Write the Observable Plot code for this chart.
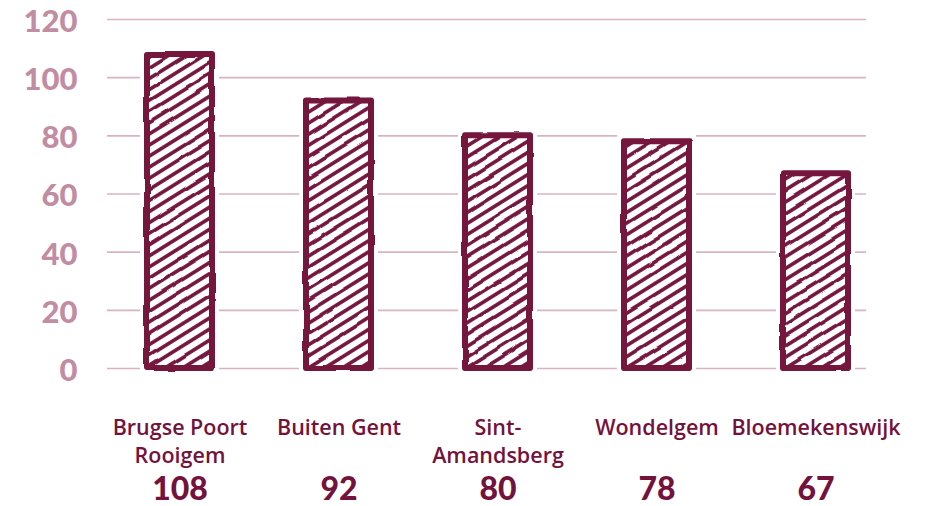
<!DOCTYPE html>
<html>
<head>
<meta charset="utf-8">
<script src="https://cdn.jsdelivr.net/npm/d3@7"></script>
<script src="https://cdn.jsdelivr.net/npm/@observablehq/plot@0.6"></script>
<style>
  html, body { margin: 0; padding: 0; background: #fff; }
  #chart { width: 933px; height: 506px; }
</style>
</head>
<body>
<div id="chart"></div>
<script>
const categories = ["Brugse Poort\nRooigem", "Buiten Gent", "Sint-\nAmandsberg", "Wondelgem", "Bloemekenswijk"];
const values = [108, 92, 80, 78, 67];
const yTicks = [0, 20, 40, 60, 80, 100, 120];

const maroon = "#74123e";
const pink = "#c28ca3";
const gridPink = "#d9b3c3";

const data = categories.map((c, i) => ({category: c, value: values[i]}));

const chart = Plot.plot({
  width: 933,
  height: 506,
  marginTop: 19,
  marginBottom: 138,
  marginLeft: 107,
  marginRight: 67,
  style: {background: "#fff"},
  x: {domain: categories, range: [100.5, 895.5], paddingInner: 0.59, paddingOuter: 0.295, label: null},
  y: {domain: [0, 120], ticks: yTicks, label: null},
  marks: [
    Plot.ruleY(yTicks, {stroke: gridPink, strokeWidth: 1.6}),
    Plot.barY(data, {x: "category", y: "value", fill: "#fff", stroke: "#fff", strokeWidth: 14}),
    Plot.barY(data, {x: "category", y: "value", fill: "url(#hatch)", stroke: maroon, strokeWidth: 6, strokeLinejoin: "round", className: "rough"}),
    Plot.axisY({ticks: yTicks, tickSize: 0, tickPadding: 30, dy: 2.5, fontSize: 31, fill: pink, fontFamily: "Lato", fontWeight: 900, label: null}),
    Plot.axisX({tickSize: 0, tickPadding: 47, fontSize: 21.5, lineHeight: 1.3, fill: maroon, fontFamily: "Open Sans", fontWeight: 600, label: null}),
    Plot.text(data, {x: "category", text: d => String(d.value), frameAnchor: "bottom", lineAnchor: "middle", dy: 121, fontSize: 32, fontFamily: "Lato", fontWeight: 900, fill: maroon})
  ]
});

const ns = "http://www.w3.org/2000/svg";
const defs = document.createElementNS(ns, "defs");
const pat = document.createElementNS(ns, "pattern");
pat.setAttribute("id", "hatch");
pat.setAttribute("patternUnits", "userSpaceOnUse");
pat.setAttribute("width", "9.4");
pat.setAttribute("height", "9.4");
pat.setAttribute("patternTransform", "rotate(-32)");
const bg = document.createElementNS(ns, "rect");
bg.setAttribute("width", "9.4");
bg.setAttribute("height", "9.4");
bg.setAttribute("fill", "#fff");
pat.appendChild(bg);
const ln = document.createElementNS(ns, "line");
ln.setAttribute("x1", "-2");
ln.setAttribute("x2", "12");
ln.setAttribute("y1", "4.7");
ln.setAttribute("y2", "4.7");
ln.setAttribute("stroke", maroon);
ln.setAttribute("stroke-width", "3.6");
pat.appendChild(ln);
defs.appendChild(pat);
const filt = document.createElementNS(ns, "filter");
filt.setAttribute("id", "roughen");
filt.setAttribute("x", "-10%"); filt.setAttribute("y", "-10%");
filt.setAttribute("width", "120%"); filt.setAttribute("height", "120%");
const turb = document.createElementNS(ns, "feTurbulence");
turb.setAttribute("type", "fractalNoise");
turb.setAttribute("baseFrequency", "0.03");
turb.setAttribute("numOctaves", "2");
turb.setAttribute("seed", "3");
turb.setAttribute("result", "noise");
const disp = document.createElementNS(ns, "feDisplacementMap");
disp.setAttribute("in", "SourceGraphic");
disp.setAttribute("in2", "noise");
disp.setAttribute("scale", "3");
disp.setAttribute("xChannelSelector", "R");
disp.setAttribute("yChannelSelector", "G");
filt.appendChild(turb); filt.appendChild(disp);
defs.appendChild(filt);
chart.insertBefore(defs, chart.firstChild);
chart.querySelectorAll("g.rough").forEach(g => g.setAttribute("filter", "url(#roughen)"));

document.getElementById("chart").appendChild(chart);
</script>
</body>
</html>
